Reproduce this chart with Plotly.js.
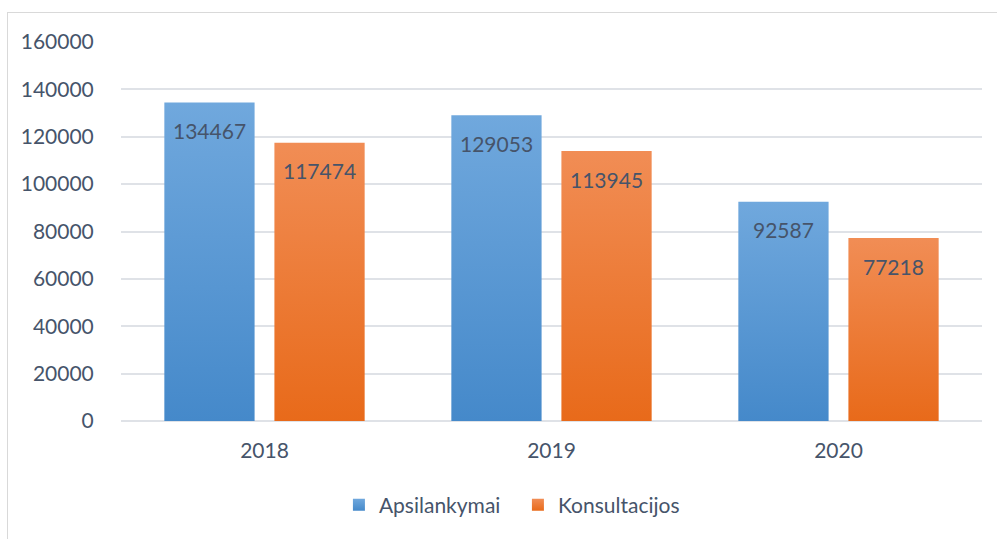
<!DOCTYPE html>
<html>
<head>
<meta charset="utf-8">
<script src="https://cdn.plot.ly/plotly-3.0.1.min.js"></script>
<style>
  html, body { margin: 0; padding: 0; background: #ffffff; }
  #wrap { position: relative; width: 997px; height: 539px; overflow: hidden; }
  #chart { position: absolute; left: 0; top: 0; width: 997px; height: 539px; }
  #frame { position: absolute; left: 7px; top: 12px; width: 1100px; height: 700px;
           border-left: 1px solid #d9d9d9; border-top: 1px solid #d9d9d9; pointer-events: none; }
</style>
</head>
<body>
<div id="wrap">
  <div id="chart"></div>
  <div id="frame"></div>
</div>
<script>
// ---- data ----
const years = ['2018', '2019', '2020'];
const apsilankymai = [134467, 129053, 92587];
const konsultacijos = [117474, 113945, 77218];
const seriesNames = ['Apsilankymai', 'Konsultacijos'];
const yTicks = [0, 20000, 40000, 60000, 80000, 100000, 120000, 140000, 160000];

// ---- styles ----
const textColor = '#46546a';
const blue = '#5b9bd5';
const orange = '#ed7d31';
const fontFamily = 'Lato, "Open Sans", sans-serif';
const fs = 21;

const traces = [
  { type: 'bar', name: seriesNames[0], x: years, y: apsilankymai,
    marker: { color: blue }, hoverinfo: 'skip' },
  { type: 'bar', name: seriesNames[1], x: years, y: konsultacijos,
    marker: { color: orange }, hoverinfo: 'skip' }
];

// value labels: x given as the category index (0,1,2) of each year
const annotations = [];
[apsilankymai, konsultacijos].forEach((vals, s) => {
  vals.forEach((v, i) => {
    annotations.push({
      x: i, y: v, xref: 'x', yref: 'y',
      text: String(v), showarrow: false,
      xshift: s === 0 ? -55 : 55, yshift: -28,
      yanchor: 'middle', xanchor: 'center',
      font: { family: fontFamily, size: fs, color: textColor }
    });
  });
});

const layout = {
  width: 997, height: 539,
  margin: { l: 121, r: 15, t: 42, b: 118 },
  paper_bgcolor: 'rgba(0,0,0,0)',
  plot_bgcolor: 'rgba(0,0,0,0)',
  font: { family: fontFamily, size: fs, color: textColor },
  barmode: 'group',
  bargap: 0.233,
  bargroupgap: 0.18,
  showlegend: true,
  legend: {
    orientation: 'h', entrywidth: 134,
    x: 0.461, xanchor: 'center', y: -0.222, yanchor: 'middle',
    font: { family: fontFamily, size: fs, color: textColor }
  },
  xaxis: {
    type: 'category', range: [-0.5, 2.5],
    showgrid: false, zeroline: false, showline: false,
    ticks: 'outside', ticklen: 11, tickcolor: 'rgba(0,0,0,0)',
    tickfont: { family: fontFamily, size: fs, color: textColor }
  },
  yaxis: {
    range: [0, 160000], tickvals: yTicks, ticktext: yTicks.map(String),
    showgrid: true, gridcolor: '#dfe2e7', gridwidth: 2,
    zeroline: true, zerolinecolor: '#dfe2e7', zerolinewidth: 2,
    showline: false, ticks: 'outside', ticklen: 22, tickcolor: 'rgba(0,0,0,0)',
    tickfont: { family: fontFamily, size: fs, color: textColor }
  },
  annotations: annotations
};

Plotly.newPlot('chart', traces, layout, { staticPlot: true, displayModeBar: false }).then(gd => {
  // vertical gradients like the original bars
  const svg = gd.querySelector('.main-svg');
  const ns = 'http://www.w3.org/2000/svg';
  let defs = svg.querySelector('defs');
  if (!defs) { defs = document.createElementNS(ns, 'defs'); svg.insertBefore(defs, svg.firstChild); }
  function grad(id, top, bottom) {
    const g = document.createElementNS(ns, 'linearGradient');
    g.setAttribute('id', id);
    g.setAttribute('x1', '0'); g.setAttribute('y1', '0');
    g.setAttribute('x2', '0'); g.setAttribute('y2', '1');
    [[0, top], [1, bottom]].forEach(([o, c]) => {
      const st = document.createElementNS(ns, 'stop');
      st.setAttribute('offset', o); st.setAttribute('stop-color', c);
      g.appendChild(st);
    });
    defs.appendChild(g);
  }
  grad('gBlue', '#70a8dd', '#4589ca');
  grad('gOrange', '#f18d55', '#e86a1a');
  const ids = ['gBlue', 'gOrange'];
  gd.querySelectorAll('.barlayer .trace').forEach((t, i) => {
    t.querySelectorAll('path').forEach(p => { p.style.fill = 'url(#' + ids[i] + ')'; });
  });
  gd.querySelectorAll('.legend .traces').forEach((t, i) => {
    t.querySelectorAll('.legendpoints path').forEach(p => {
      p.style.fill = 'url(#' + ids[i] + ')';
      p.style.strokeWidth = '0';
      p.setAttribute('d', 'M6,6H-6V-6H6Z');
    });
  });
});
</script>
</body>
</html>
